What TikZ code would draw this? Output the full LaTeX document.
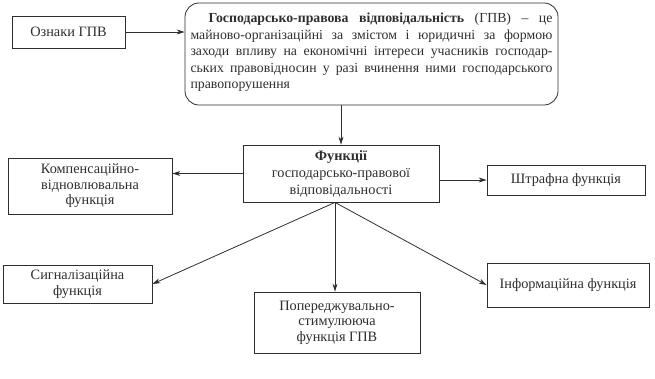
\documentclass[tikz,border=0pt]{standalone}
\usepackage{fontspec}
\setmainfont{Liberation Serif}
\usepackage{xcolor}
\usepackage{tikz}
\usetikzlibrary{positioning, arrows.meta}
\definecolor{inkgray}{HTML}{2E2E2E}

\begin{document}
\begin{tikzpicture}[x=1pt, y=-1pt,
    box/.style={draw=inkgray, line width=0.8pt, text=inkgray, align=center,
          inner sep=2pt, font=\fontsize{14.3}{15.5}\selectfont},
    link/.style={draw=inkgray, line width=0.8pt, -{Stealth[length=8pt, width=5pt]}}]
    \useasboundingbox (0,0) rectangle (655,378);
    \node[box, minimum width=113pt, minimum height=32pt] (ozn) at (68.5,32) {Ознаки ГПВ};
    \node[box, rounded corners=14pt, minimum width=373pt, minimum height=102pt,
          text width=362pt, align=justify, inner sep=0pt,
          font=\fontsize{13.8}{16.5}\selectfont] (gpv) at (371.5,54) {%
      \hspace*{18pt}\textbf{Господарсько-правова відповідальність} (ГПВ) – це\linebreak
      майново-організаційні за змістом і юридичні за формою\linebreak
      заходи впливу на економічні інтереси учасників господар-\linebreak
      ських правовідносин у разі вчинення ними господарського\linebreak
      правопорушення\par\vspace*{3pt}};
    \node[box, minimum width=196pt, minimum height=57pt,
          font=\fontsize{14.3}{17}\selectfont] (func) at (341,173.5) {%
      \textbf{Функції}\\господарсько-правової\\відповідальності};
    \node[box, minimum width=164pt, minimum height=56pt] (comp) at (90,186) {%
      Компенсаційно-\\відновлювальна\\функція};
    \node[box, minimum width=158pt, minimum height=30pt] (fine) at (566,180) {Штрафна функція};
    \node[box, minimum width=149pt, minimum height=38pt] (sig) at (77.5,284) {%
      Сигналізаційна\\функція};
    \node[box, minimum width=166pt, minimum height=61pt] (prev) at (337,322.5) {%
      Попереджувально-\\стимулююча\\функція ГПВ};
    \node[box, minimum width=162pt, minimum height=44pt] (info) at (568,285) {Інформаційна функція};
    \coordinate[xshift=-6pt] (fork) at (func.south);
    \draw[link] (ozn.east) -- (ozn.east -| gpv.west);
    \draw[link] (func.north |- gpv.south) -- (func.north);
    \draw[link] (func.west) -- (func.west -| comp.east);
    \draw[link] (fine.west -| func.east) -- (fine.west);
    \draw[link] (fork) -- (sig.east);
    \draw[link] (fork) -- (fork |- prev.north);
    \draw[link] (fork) -- (info.west);
\end{tikzpicture}
\end{document}
